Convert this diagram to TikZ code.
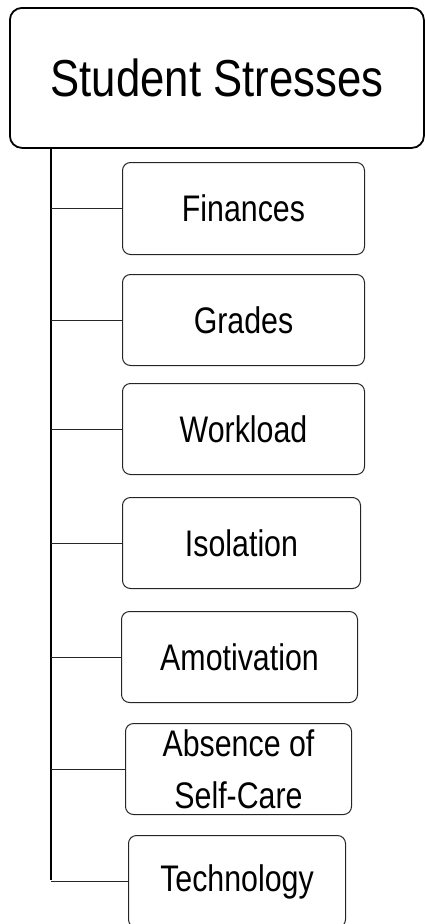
\documentclass[tikz,border=0pt]{standalone}
\usepackage{fontspec}
\setmainfont{Liberation Sans}
\newfontfamily\rootfont[FakeStretch=0.84]{Liberation Sans}
\newfontfamily\kidfont[FakeStretch=0.82]{Liberation Sans}
\tikzset{
  rootbox/.style={draw=black, line width=1.8pt, rounded corners=12pt, anchor=north west, inner sep=0pt,
    font=\rootfont\fontsize{52}{60}\selectfont, align=center},
  kidbox/.style={draw=black!85, line width=1pt, rounded corners=8pt, anchor=north west, inner sep=0pt,
    font=\kidfont\fontsize{37}{52}\selectfont, align=center},
  trunkline/.style={draw=black, line width=1.6pt},
  twig/.style={draw=black!85, line width=1pt}
}
\begin{document}
\begin{tikzpicture}[x=1pt,y=-1pt]
\useasboundingbox (0,0) rectangle (425,924);
\node[rootbox, minimum width=414pt, minimum height=140pt] (root) at (9,7) {Student Stresses};
\node[kidbox, minimum width=242pt, minimum height=92pt] (fin) at (122,162) {Finances};
\node[kidbox, minimum width=242pt, minimum height=91pt] (gra) at (122,274) {Grades};
\node[kidbox, minimum width=242pt, minimum height=91pt] (wor) at (122,383) {Workload};
\node[kidbox, minimum width=238pt, minimum height=91pt] (iso) at (122,497) {Isolation};
\node[kidbox, minimum width=236pt, minimum height=91pt] (amo) at (121,611) {Amotivation};
\node[kidbox, minimum width=226pt, minimum height=91pt] (abs) at (125,723) {Absence of\\Self-Care};
\node[kidbox, minimum width=217pt, minimum height=92pt] (tec) at (128,835) {Technology};
\coordinate (trunk) at (51,147);
\coordinate (trunkend) at (51,880);
\draw[trunkline] (trunk) -- (trunkend);
\foreach \k in {fin,gra,wor,iso,amo,abs,tec}{
  \draw[twig] (\k.west -| trunk) -- (\k.west);
}
\end{tikzpicture}
\end{document}
